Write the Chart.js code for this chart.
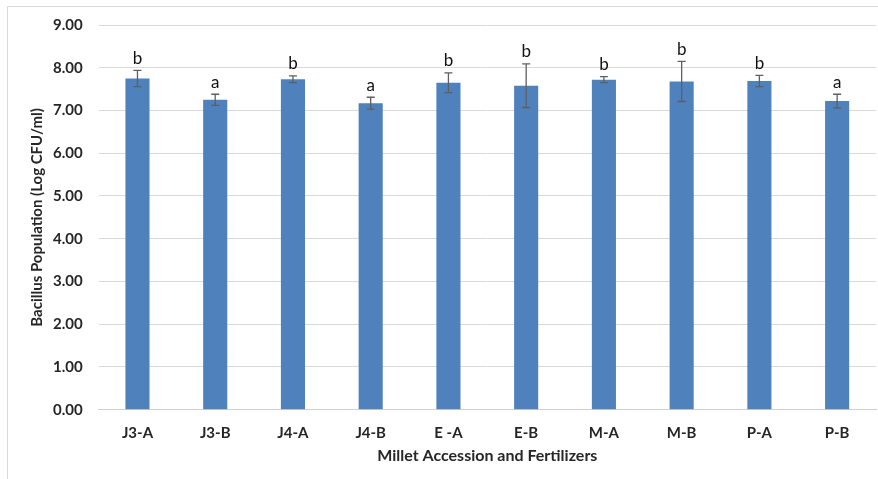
<!DOCTYPE html>
<html>
<head>
<meta charset="utf-8">
<script src="https://cdn.jsdelivr.net/npm/chart.js@4.4.1/dist/chart.umd.min.js"></script>
<style>
  html, body { margin: 0; padding: 0; background: #fff; }
  #wrap { position: relative; width: 878px; height: 479px; }
  #frame { position: absolute; left: 7px; top: 6px; width: 880px; height: 480px;
           border-left: 1px solid #d9d9d9; border-top: 1px solid #d9d9d9; box-sizing: border-box; }
  canvas { position: absolute; left: 0; top: 0; }
</style>
</head>
<body>
<div id="wrap">
  <div id="frame"></div>
  <canvas id="c" width="878" height="479"></canvas>
</div>
<script>
// Bacillus counts per millet accession / fertilizer treatment
const categories = ['J3-A', 'J3-B', 'J4-A', 'J4-B', 'E -A', 'E-B', 'M-A', 'M-B', 'P-A', 'P-B'];
const means      = [7.75, 7.25, 7.73, 7.17, 7.65, 7.58, 7.72, 7.68, 7.69, 7.22];
const errors     = [0.19, 0.13, 0.08, 0.14, 0.23, 0.51, 0.07, 0.47, 0.13, 0.16];
const groups     = ['b', 'a', 'b', 'a', 'b', 'b', 'b', 'b', 'b', 'a'];
const yTicks     = [0, 1, 2, 3, 4, 5, 6, 7, 8, 9];

const FONT = 'Lato, "Open Sans", sans-serif';

// Draws the ± error whiskers and the significance letters above them
const errorBarPlugin = {
  id: 'errorBars',
  afterDatasetsDraw(chart) {
    const ctx = chart.ctx;
    const meta = chart.getDatasetMeta(0);
    const y = chart.scales.y;
    ctx.save();
    meta.data.forEach((bar, i) => {
      const x = bar.x;
      const top = y.getPixelForValue(means[i] + errors[i]);
      const bot = y.getPixelForValue(means[i] - errors[i]);
      ctx.strokeStyle = '#5f5f5f';
      ctx.lineWidth = 1.3;
      ctx.beginPath();
      ctx.moveTo(x, top); ctx.lineTo(x, bot);
      ctx.moveTo(x - 4, top); ctx.lineTo(x + 4, top);
      ctx.moveTo(x - 4, bot); ctx.lineTo(x + 4, bot);
      ctx.stroke();
      ctx.fillStyle = '#111';
      ctx.font = '17px ' + FONT;
      ctx.textAlign = 'center';
      ctx.textBaseline = 'alphabetic';
      ctx.fillText(groups[i], x, top - 6.5);
    });
    ctx.restore();
  }
};

new Chart(document.getElementById('c'), {
  type: 'bar',
  data: {
    labels: categories,
    datasets: [{
      data: means,
      backgroundColor: '#4f81bd',
      borderWidth: 0,
      barPercentage: 0.31,
      categoryPercentage: 1.0
    }]
  },
  options: {
    responsive: false,
    animation: false,
    devicePixelRatio: 1,
    layout: { padding: { left: 28, right: 2, top: 22, bottom: 14 } },
    plugins: { legend: { display: false }, tooltip: { enabled: false } },
    scales: {
      x: {
        afterFit(scale) { scale.height = 55.3; },
        grid: { display: false, drawTicks: false },
        border: { color: '#d0d0d0', width: 1 },
        ticks: { color: '#262626', font: { family: FONT, size: 15, weight: 'bold' }, padding: 14 },
        title: { display: true, text: 'Millet Accession and Fertilizers', color: '#262626',
                 font: { family: FONT, size: 16, weight: 'bold' }, padding: { top: 0, bottom: 0 } }
      },
      y: {
        min: 0, max: 9,
        afterBuildTicks(scale) { scale.ticks = yTicks.map(v => ({ value: v })); },
        afterFit(scale) { scale.width = 70.6; },
        grid: { color: '#d9d9d9', lineWidth: 1, drawTicks: false },
        border: { display: false },
        ticks: { color: '#262626', font: { family: FONT, size: 15, weight: 'bold' }, padding: 16,
                 callback: v => Number(v).toFixed(2) },
        title: { display: true, text: 'Bacillus Population (Log CFU/ml)', color: '#262626',
                 font: { family: FONT, size: 15, weight: 'bold' }, padding: { top: 0, bottom: 0 } }
      }
    }
  },
  plugins: [errorBarPlugin]
});
</script>
</body>
</html>
